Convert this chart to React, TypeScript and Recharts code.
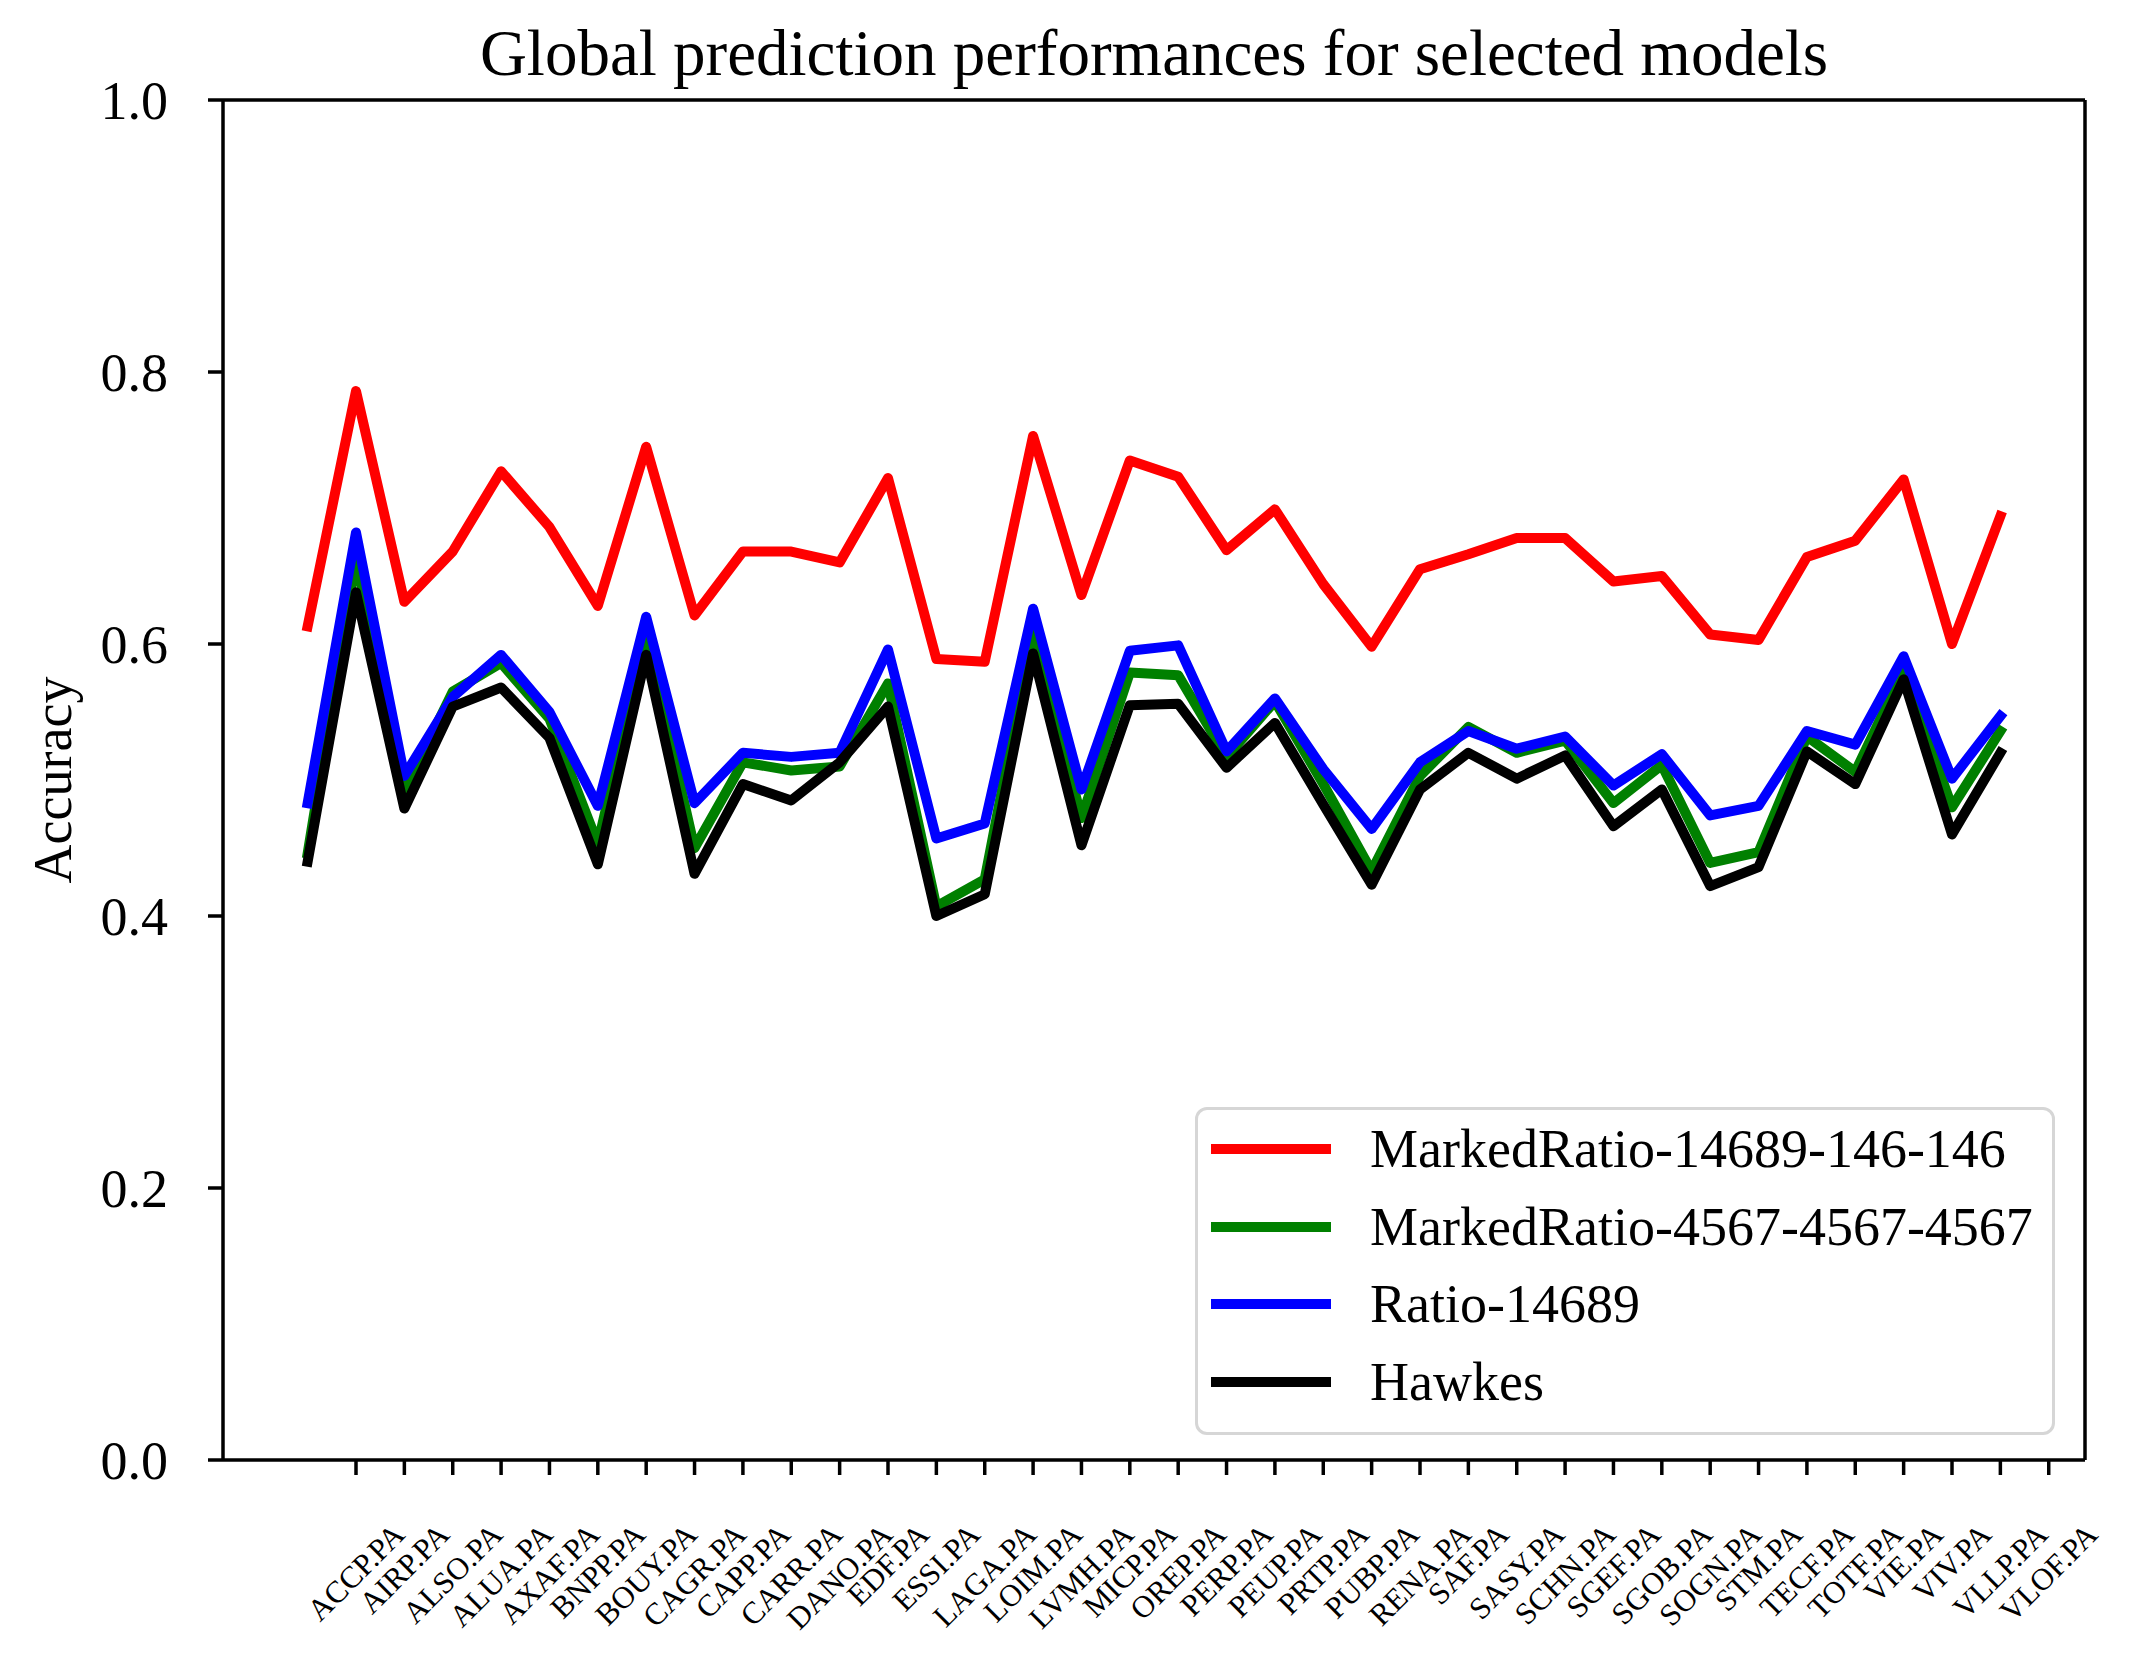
import React from 'react';
import { LineChart, Line, XAxis, YAxis, Legend, ReferenceLine } from 'recharts';

const FONT = '"Liberation Serif", "Times New Roman", Times, serif';

const stocks = [
  'ACCP.PA', 'AIRP.PA', 'ALSO.PA', 'ALUA.PA', 'AXAF.PA', 'BNPP.PA', 'BOUY.PA', 'CAGR.PA', 'CAPP.PA',
  'CARR.PA', 'DANO.PA', 'EDF.PA', 'ESSI.PA', 'LAGA.PA', 'LOIM.PA', 'LVMH.PA', 'MICP.PA', 'OREP.PA',
  'PERP.PA', 'PEUP.PA', 'PRTP.PA', 'PUBP.PA', 'RENA.PA', 'SAF.PA', 'SASY.PA', 'SCHN.PA', 'SGEF.PA',
  'SGOB.PA', 'SOGN.PA', 'STM.PA', 'TECF.PA', 'TOTF.PA', 'VIE.PA', 'VIV.PA', 'VLLP.PA', 'VLOF.PA',
];

const markedRatio14689 = [
  0.613, 0.786, 0.631, 0.668, 0.727, 0.686, 0.628, 0.745, 0.621, 0.668, 0.668, 0.660,
  0.722, 0.589, 0.587, 0.753, 0.636, 0.735, 0.723, 0.669, 0.699, 0.644, 0.598, 0.655,
  0.666, 0.678, 0.678, 0.646, 0.650, 0.607, 0.603, 0.664, 0.676, 0.721, 0.600, 0.694,
];

const markedRatio4567 = [
  0.446, 0.663, 0.492, 0.565, 0.586, 0.545, 0.453, 0.607, 0.450, 0.513, 0.507, 0.510,
  0.571, 0.407, 0.427, 0.611, 0.472, 0.579, 0.577, 0.517, 0.558, 0.497, 0.433, 0.503,
  0.539, 0.520, 0.529, 0.483, 0.511, 0.439, 0.447, 0.532, 0.506, 0.581, 0.480, 0.536,
];

const ratio14689 = [
  0.483, 0.682, 0.503, 0.561, 0.592, 0.550, 0.481, 0.620, 0.483, 0.520, 0.517, 0.520,
  0.596, 0.457, 0.468, 0.626, 0.493, 0.595, 0.599, 0.521, 0.560, 0.508, 0.464, 0.513,
  0.536, 0.523, 0.532, 0.496, 0.519, 0.474, 0.481, 0.536, 0.526, 0.591, 0.501, 0.547,
];

const hawkes = [
  0.440, 0.638, 0.479, 0.554, 0.568, 0.531, 0.438, 0.592, 0.431, 0.497, 0.485, 0.513,
  0.554, 0.400, 0.416, 0.593, 0.452, 0.555, 0.556, 0.509, 0.542, 0.482, 0.423, 0.493,
  0.520, 0.501, 0.518, 0.466, 0.493, 0.422, 0.436, 0.521, 0.497, 0.574, 0.460, 0.520,
];

const series = [
  { key: 'mr14689', name: 'MarkedRatio-14689-146-146', color: '#ff0000', values: markedRatio14689 },
  { key: 'mr4567', name: 'MarkedRatio-4567-4567-4567', color: '#008000', values: markedRatio4567 },
  { key: 'r14689', name: 'Ratio-14689', color: '#0000ff', values: ratio14689 },
  { key: 'hawkes', name: 'Hawkes', color: '#000000', values: hawkes },
];

const yTicks = [0, 0.2, 0.4, 0.6, 0.8, 1.0];
// labels sit one step to the right of the points, as in the original figure
const xTicks = stocks.map((_, i) => i + 1);
const xDomain: [number, number] = [-1.75, 36.75];

const data = stocks.map((_, i) => {
  const row: Record<string, number> = { pos: i };
  series.forEach((s) => { row[s.key] = s.values[i]; });
  return row;
});

const LABEL_TOP = 1522;
const TICK_FONT = 31;

let measureCtx: CanvasRenderingContext2D | null = null;
const measure = (s: string, size: number) => {
  if (!measureCtx) measureCtx = document.createElement('canvas').getContext('2d');
  if (!measureCtx) return s.length * size * 0.6;
  measureCtx.font = `${size}px ${FONT}`;
  return measureCtx.measureText(s).width;
};

const XTick = (props: any) => {
  const { x, payload } = props;
  const label = stocks[payload.value - 1];
  if (!label) return null;
  const cap = 0.66 * TICK_FONT;
  const len = measure(label, TICK_FONT);
  const ax = x + 0.3535 * (len + cap);
  const ay = LABEL_TOP + 0.707 * cap;
  return (
    <text x={ax} y={ay} textAnchor="end" fontSize={TICK_FONT} fontFamily={FONT} fill="#000"
      transform={`rotate(-45 ${ax} ${ay})`}>
      {label}
    </text>
  );
};

// title and y label share one label renderer
const renderTexts = () => (
  <g>
    <text x={1154} y={75} textAnchor="middle" fontSize={65} fontFamily={FONT} fill="#000">
      Global prediction performances for selected models
    </text>
    <text x={71} y={780} textAnchor="middle" fontSize={54} fontFamily={FONT} fill="#000"
      transform="rotate(-90 71 780)">
      Accuracy
    </text>
  </g>
);

const LegendBox = (props: any) => {
  const given = props.payload || [];
  const items = series
    .map((s) => given.find((p: any) => p.value === s.name) || { value: s.name, color: s.color })
  return (
    <div style={{
      position: 'relative', width: 860, height: 328, boxSizing: 'border-box',
      border: '3px solid #d6d6d6', borderRadius: 12, background: 'rgba(255,255,255,0.8)',
      fontFamily: FONT, fontSize: 54, color: '#000',
    }}>
      {items.map((it: any, i: number) => {
        const cy = 42 + 77.7 * i;
        return (
          <React.Fragment key={it.value}>
            <div style={{ position: 'absolute', left: 13, top: cy - 5 - 3, width: 120, height: 10, background: it.color }} />
            <div style={{ position: 'absolute', left: 172, top: cy - 27 - 3, height: 54, lineHeight: '54px', whiteSpace: 'nowrap' }}>
              {it.value}
            </div>
          </React.Fragment>
        );
      })}
    </div>
  );
};

const axisStroke = { stroke: '#000', strokeWidth: 3.5 };

export default function App() {
  return (
    <div style={{ position: 'absolute', left: 0, top: 0, background: '#fff' }}>
      <LineChart width={2135} height={1668} data={data} margin={{ top: 100, right: 50, bottom: 58, left: 73 }}>
        <XAxis
          dataKey="pos"
          type="number"
          domain={xDomain}
          ticks={xTicks}
          interval={0}
          height={150}
          tickSize={15}
          tickLine={axisStroke}
          axisLine={axisStroke}
          tick={<XTick />}
        />
        <YAxis
          type="number"
          domain={[0, 1]}
          ticks={yTicks}
          interval={0}
          width={150}
          tickSize={15}
          tickMargin={40}
          tickLine={axisStroke}
          axisLine={axisStroke}
          tickFormatter={(v: number) => v.toFixed(1)}
          tick={{ fontSize: 54, fontFamily: FONT, fill: '#000' }}
          label={{ value: 'Accuracy', content: renderTexts }}
        />
        <ReferenceLine y={1} stroke="#000" strokeWidth={3.5} ifOverflow="visible" />
        <ReferenceLine x={xDomain[1]} stroke="#000" strokeWidth={3.5} ifOverflow="visible" />
        <Legend
          layout="horizontal"
          verticalAlign="middle"
          align="center"
          content={<LegendBox />}
          wrapperStyle={{ left: 1195, top: 1107, width: 860, height: 328, bottom: 'auto' }}
        />
        {series.map((s) => (
          <Line
            key={s.key}
            dataKey={s.key}
            name={s.name}
            type="linear"
            stroke={s.color}
            strokeWidth={10}
            strokeLinejoin="round"
            strokeLinecap="square"
            dot={false}
            activeDot={false}
            isAnimationActive={false}
          />
        ))}
      </LineChart>
    </div>
  );
}
